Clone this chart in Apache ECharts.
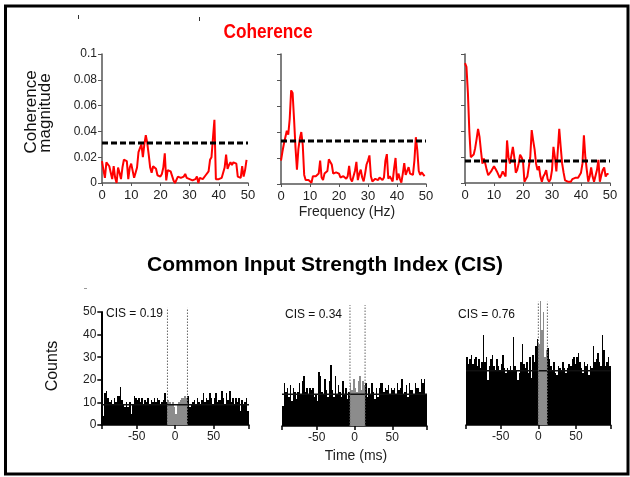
<!DOCTYPE html>
<html>
<head>
<meta charset="utf-8">
<script src="https://cdn.jsdelivr.net/npm/echarts@6/dist/echarts.min.js"></script>
<style>
  html, body { margin: 0; padding: 0; background: #fff; }
  #chart { width: 630px; height: 477px; }
</style>
</head>
<body>
<div id="chart"></div>
<script>
// ---- Coherence spectra (0–49.5 Hz, 0.5 Hz resolution) ----
const freqStart = 0;
const freqStep = 0.5;
const freqMax = 50;

const cohPairA = [
  0.017,0.010,0.004,0.016,0.015,0.013,0.008,0.003,0.013,0.004,
  0.000,0.012,0.008,0.003,0.012,0.018,0.018,0.017,0.003,0.012,
  0.015,0.016,0.004,0.008,0.012,0.024,0.027,0.030,0.020,0.030,
  0.037,0.031,0.022,0.012,0.008,0.013,0.013,0.011,0.006,0.005,
  0.005,0.007,0.012,0.023,0.002,0.010,0.009,0.009,0.008,0.002,
  0.000,0.001,0.005,0.006,0.004,0.003,0.005,0.007,0.004,0.003,
  0.003,0.003,0.002,0.001,0.003,0.005,0.000,0.004,0.003,0.003,
  0.004,0.006,0.005,0.009,0.018,0.020,0.035,0.049,0.003,0.003,
  0.003,0.004,0.004,0.005,0.012,0.022,0.011,0.014,0.016,0.014,
  0.016,0.015,0.015,0.005,0.004,0.004,0.013,0.005,0.010,0.018
];
const cohPairB = [
  0.018,0.025,0.031,0.036,0.041,0.038,0.050,0.072,0.070,0.050,
  0.028,0.011,0.027,0.035,0.040,0.030,0.007,0.003,0.002,0.003,
  0.002,0.001,0.006,0.006,0.006,0.007,0.008,0.018,0.005,0.003,
  0.008,0.008,0.010,0.019,0.017,0.015,0.008,0.009,0.009,0.009,
  0.008,0.005,0.005,0.006,0.006,0.004,0.006,0.014,0.004,0.002,
  0.001,0.010,0.017,0.003,0.008,0.011,0.005,0.002,0.008,0.015,
  0.018,0.022,0.006,0.002,0.003,0.004,0.004,0.003,0.005,0.006,
  0.003,0.005,0.018,0.023,0.004,0.006,0.004,0.002,0.012,0.020,
  0.003,0.008,0.004,0.001,0.008,0.016,0.007,0.010,0.013,0.008,
  0.007,0.007,0.018,0.036,0.026,0.010,0.007,0.009,0.010,0.006
];
const cohPairC = [
  0.093,0.090,0.070,0.040,0.020,0.020,0.022,0.027,0.034,0.042,
  0.036,0.025,0.015,0.019,0.015,0.010,0.006,0.005,0.009,0.011,
  0.013,0.011,0.009,0.008,0.004,0.006,0.009,0.007,0.005,0.033,
  0.020,0.015,0.015,0.028,0.020,0.008,0.010,0.015,0.022,0.020,
  0.017,0.001,0.003,0.005,0.005,0.020,0.041,0.033,0.026,0.015,
  0.010,0.013,0.005,0.001,0.005,0.007,0.010,0.003,0.001,0.003,
  0.010,0.028,0.020,0.009,0.025,0.042,0.028,0.015,0.008,0.002,
  0.001,0.001,0.001,0.001,0.003,0.004,0.004,0.004,0.004,0.005,
  0.008,0.015,0.037,0.020,0.010,0.001,0.005,0.012,0.005,0.001,
  0.001,0.010,0.018,0.001,0.006,0.010,0.012,0.005,0.007,0.007
];
const cohThresholds = [0.031, 0.033, 0.017];

// ---- Cross-correlation histograms (2 ms bins, -96..96 ms) ----
const binStart = -96;
const binWidth = 2;

const countsA = [
  10,4,14,15,12,10,11,9,12,10,
  13,13,17,11,9,8,10,8,10,5,
  9,13,12,11,12,10,12,9,11,10,
  12,9,11,10,12,10,12,11,9,10,
  11,14,10,11,10,9,10,8,5,9,
  10,11,12,12,13,12,13,8,9,10,
  11,9,12,10,9,11,14,10,12,11,
  14,12,9,12,14,10,11,11,15,12,
  9,14,11,15,10,12,9,12,10,12,
  6,11,9,10,12,6
];
const countsB = [
  9,19,15,17,13,18,11,17,15,12,
  15,19,14,20,22,15,17,14,17,16,
  17,13,14,11,24,22,15,14,21,16,
  13,20,27,16,13,22,14,18,15,13,
  20,14,17,12,15,19,16,21,17,15,
  20,22,16,20,18,19,13,17,14,19,
  15,12,17,13,17,19,19,15,17,16,
  18,14,17,16,17,14,19,16,17,21,
  14,15,18,13,19,16,16,14,19,17,
  17,15,21,19,21,14
];
const countsC = [
  30,27,29,31,27,29,30,26,29,25,
  28,40,28,30,20,26,29,31,26,24,
  29,26,24,27,31,25,23,25,24,26,
  24,39,26,24,20,23,28,36,27,25,
  28,23,30,21,31,28,35,38,36,55,
  42,50,30,33,34,29,26,24,28,23,
  22,26,25,24,28,25,23,25,27,26,
  29,30,27,30,32,28,25,23,28,26,
  27,22,26,25,35,28,29,32,28,26,
  40,33,26,28,30,26
];
const cisLabels = ['CIS = 0.19', 'CIS = 0.34', 'CIS = 0.76'];
const cisWindows = [[-10, 16], [-6, 14], [0, 12]];
const meanCounts = [9, 14, 24];
const timeTicks = [-50, 0, 50];

// ---- layout ----
const topGrids = [
  { left: 102, top: 54, width: 146, height: 129 },
  { left: 281, top: 54, width: 145, height: 130 },
  { left: 465, top: 54, width: 145, height: 129 }
];
const bottomGrids = [
  { left: 101.3, top: 312, width: 147.7, height: 113 },
  { left: 282, top: 313, width: 145, height: 113 },
  { left: 466, top: 298.4, width: 144.7, height: 126.6 }
];
const countMax = [50, 50, 56];
const dottedTop = [51.8, 53.5, 54.5];

const FONT = 'Liberation Sans, Arial, sans-serif';
const tickText = { fontSize: 12, color: '#222', fontFamily: FONT };

const grids = [...topGrids, ...bottomGrids];
const xAxes = [];
const yAxes = [];
const series = [];

[cohPairA, cohPairB, cohPairC].forEach((vals, i) => {
  xAxes.push({
    gridIndex: i, type: 'value', min: 0, max: freqMax, interval: 10,
    axisLine: { show: true, onZero: false, lineStyle: { color: '#555', width: 1.5 } },
    axisTick: { show: true, length: 3, lineStyle: { color: '#555', width: 1 } },
    axisLabel: { margin: 6, fontSize: 13, color: '#222', fontFamily: FONT },
    splitLine: { show: false }
  });
  yAxes.push({
    gridIndex: i, type: 'value', min: 0, max: 0.1, interval: 0.02,
    axisLine: { show: true, onZero: false, lineStyle: { color: '#555', width: 1.5 } },
    axisTick: { show: true, length: 4, lineStyle: { color: '#555', width: 1 } },
    axisLabel: Object.assign({ show: i === 0, margin: 5 }, tickText),
    splitLine: { show: false }
  });
  series.push({
    type: 'line', xAxisIndex: i, yAxisIndex: i,
    data: vals.map((v, k) => [freqStart + k * freqStep, v]),
    symbol: 'none', silent: true,
    lineStyle: { color: '#ff0000', width: 2 },
    z: 3
  });
  // significance level
  series.push({
    type: 'line', xAxisIndex: i, yAxisIndex: i,
    data: [[freqStart, cohThresholds[i]], [freqMax, cohThresholds[i]]],
    symbol: 'none', silent: true,
    lineStyle: { color: '#000', width: 3, type: [6, 3] },
    z: 4
  });
});

[countsA, countsB, countsC].forEach((counts, i) => {
  const g = 3 + i;
  const win = cisWindows[i];
  xAxes.push({
    gridIndex: g, type: 'value', min: binStart, max: -binStart,
    axisLine: { show: true, onZero: false, lineStyle: { color: '#000', width: 1.5 } },
    axisTick: { show: true, length: 4, customValues: [binStart, ...timeTicks, -binStart],
                lineStyle: { color: '#000', width: 1.5 } },
    axisLabel: Object.assign({ margin: 6, customValues: timeTicks }, tickText),
    splitLine: { show: false }
  });
  yAxes.push({
    gridIndex: g, type: 'value', min: 0, max: countMax[i], interval: 10,
    show: i === 0,
    axisLine: { show: true, onZero: false, lineStyle: { color: '#000', width: 2 } },
    axisTick: { show: true, length: 4, lineStyle: { color: '#000', width: 1.5 } },
    axisLabel: Object.assign({ margin: 5 }, tickText),
    splitLine: { show: false }
  });
  // histogram bars, edges snapped to whole pixels; window bins in grey
  series.push({
    type: 'custom', xAxisIndex: g, yAxisIndex: g, clip: false, silent: true,
    data: counts.map((c, k) => [binStart + binWidth * k, c]),
    encode: { x: 0, y: 1 },
    renderItem: (params, api) => {
      const left = api.value(0), c = api.value(1);
      const p0 = api.coord([left, 0]);
      const p1 = api.coord([left + binWidth, c]);
      const x0 = Math.round(p0[0]), x1 = Math.round(p1[0]);
      const y0 = Math.round(p0[1]), y1 = Math.round(p1[1]);
      const centre = left + binWidth / 2;
      const col = (centre > win[0] && centre < win[1]) ? '#8c8c8c' : '#000';
      return {
        type: 'rect',
        shape: { x: x0, y: y1, width: Math.max(x1 - x0, 0), height: y0 - y1 },
        style: { fill: col }
      };
    },
    z: 2
  });
  // window borders (dotted) and mean count line
  series.push({
    type: 'custom', xAxisIndex: g, yAxisIndex: g, clip: false, silent: true,
    data: [[win[0], win[1], meanCounts[i]]],
    renderItem: (params, api) => {
      const a0 = api.coord([api.value(0), 0]), a1 = api.coord([api.value(0), dottedTop[i]]);
      const b0 = api.coord([api.value(1), 0]), b1 = api.coord([api.value(1), dottedTop[i]]);
      const m0 = api.coord([binStart, api.value(2)]), m1 = api.coord([-binStart, api.value(2)]);
      const dot = { stroke: '#666', lineWidth: 1, lineDash: [1.5, 1.5] };
      return {
        type: 'group',
        children: [
          { type: 'line', shape: { x1: m0[0], y1: m0[1], x2: m1[0], y2: m1[1] },
            style: { stroke: '#111', lineWidth: 1.5 } },
          { type: 'line', shape: { x1: a0[0], y1: a0[1], x2: a1[0], y2: a1[1] }, style: dot },
          { type: 'line', shape: { x1: b0[0], y1: b0[1], x2: b1[0], y2: b1[1] }, style: dot }
        ]
      };
    },
    z: 5
  });
});

function label(text, x, y, opts) {
  return {
    type: 'text', x, y, silent: true,
    style: Object.assign({ text, fontFamily: FONT, fontSize: 12, fill: '#111',
                           align: 'center', verticalAlign: 'middle' }, opts || {})
  };
}

const graphics = [
  { type: 'rect', silent: true, shape: { x: 5.5, y: 6, width: 622.5, height: 468 },
    style: { fill: 'none', stroke: '#000', lineWidth: 3 } },
  Object.assign(label('Coherence', 268, 32,
    { fontSize: 21, fontWeight: 'bold', fill: '#ff0000' }), { scaleX: 0.82 }),
  label('Common Input Strength Index (CIS)', 325, 265,
    { fontSize: 21, fontWeight: 'bold', fill: '#000' }),
  Object.assign(label('Coherence', 31, 112, { fontSize: 17, fill: '#111' }), { rotation: Math.PI / 2 }),
  Object.assign(label('magnitude', 45, 113, { fontSize: 17, fill: '#111' }), { rotation: Math.PI / 2 }),
  Object.assign(label('Counts', 53, 366, { fontSize: 16, fill: '#111' }), { rotation: Math.PI / 2 }),
  label('Frequency (Hz)', 347, 212, { fontSize: 14, fill: '#222' }),
  label('Time (ms)', 356, 456, { fontSize: 14, fill: '#222' }),
  label(cisLabels[0], 106, 314, { align: 'left' }),
  label(cisLabels[1], 285, 315, { align: 'left' }),
  label(cisLabels[2], 458, 315, { align: 'left' }),
  { type: 'line', silent: true, shape: { x1: 78.5, y1: 15, x2: 78.5, y2: 19 }, style: { stroke: '#333', lineWidth: 1 } },
  { type: 'line', silent: true, shape: { x1: 199.5, y1: 17, x2: 199.5, y2: 21 }, style: { stroke: '#333', lineWidth: 1 } },
  { type: 'line', silent: true, shape: { x1: 84, y1: 288.5, x2: 87, y2: 288.5 }, style: { stroke: '#999', lineWidth: 1 } }
];

const chart = echarts.init(document.getElementById('chart'), null, { renderer: 'canvas' });
chart.setOption({
  animation: false,
  backgroundColor: '#fff',
  grid: grids,
  xAxis: xAxes,
  yAxis: yAxes,
  series: series,
  graphic: graphics
});
</script>
</body>
</html>
